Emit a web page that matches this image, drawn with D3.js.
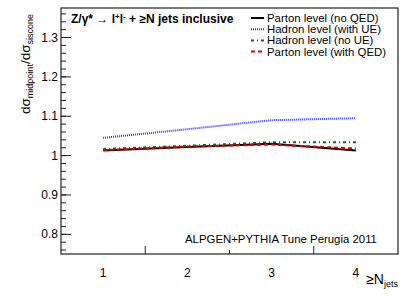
<!DOCTYPE html>
<html>
<head>
<meta charset="utf-8">
<style>
body { margin: 0; background: #fff; }
svg text { font-family: "Liberation Sans", Arial, sans-serif; }
</style>
</head>
<body>
<script src="https://d3js.org/d3.v7.min.js"></script>
<script>
// data
var njets = [1, 2, 3, 4];
var partonNoQED = [1.013, 1.022, 1.030, 1.013];
var hadronUE = [1.045, 1.067, 1.090, 1.095];
var hadronNoUE = [1.017, 1.025, 1.034, 1.034];
var partonQED = [1.014, 1.023, 1.028, 1.018];
var seriesNames = ["Parton level (no QED)", "Hadron level (with UE)", "Hadron level (no UE)", "Parton level (with QED)"];
var yTicks = [0.8, 0.9, 1, 1.1, 1.2, 1.3];

var W = 411, H = 300;
var margin = {top: 8, right: 13, bottom: 46, left: 61};

var svg = d3.select("body").append("svg")
    .attr("width", W)
    .attr("height", H);

var x = d3.scaleLinear().domain([0.5, 4.5]).range([margin.left, W - margin.right]);
var y = d3.scaleLinear().domain([0.75, 1.375]).range([H - margin.bottom, margin.top]);

// frame
svg.append("rect")
    .attr("x", margin.left).attr("y", margin.top)
    .attr("width", W - margin.right - margin.left)
    .attr("height", H - margin.bottom - margin.top)
    .attr("fill", "none").attr("stroke", "#222").attr("stroke-width", 1.2);

// y axis ticks (major + minor)
var minor = d3.range(0.76, 1.375, 0.02);
svg.selectAll(".ymin").data(minor).enter().append("line")
    .attr("x1", margin.left).attr("x2", margin.left + 5)
    .attr("y1", function(d) { return y(d); }).attr("y2", function(d) { return y(d); })
    .attr("stroke", "#222");
svg.selectAll(".ymaj").data(yTicks).enter().append("line")
    .attr("x1", margin.left).attr("x2", margin.left + 10)
    .attr("y1", function(d) { return y(d); }).attr("y2", function(d) { return y(d); })
    .attr("stroke", "#222");
svg.selectAll(".ylab").data(yTicks).enter().append("text")
    .attr("x", margin.left - 3)
    .attr("y", function(d) { return y(d) + 4; })
    .attr("text-anchor", "end")
    .attr("font-size", 12)
    .text(function(d) { return d3.format("")(d); });

// x axis ticks
var xTickPos = [1.5, 2.5, 3.5];
svg.selectAll(".xt").data(xTickPos).enter().append("line")
    .attr("x1", function(d) { return x(d); }).attr("x2", function(d) { return x(d); })
    .attr("y1", H - margin.bottom).attr("y2", function(d) { return H - margin.bottom - (d == 2.5 ? 4 : 8); })
    .attr("stroke", "#222");
svg.selectAll(".xlab").data(njets).enter().append("text")
    .attr("x", function(d) { return x(d); })
    .attr("y", H - margin.bottom + 23)
    .attr("text-anchor", "middle")
    .attr("font-size", 12)
    .text(function(d) { return d; });

// series
var styles = [
    {color: "#000", dash: null, width: 2, data: partonNoQED},
    {color: "#3333ff", dash: "1,1", width: 2, data: hadronUE},
    {color: "#007700", dash: "3,3,1,3", width: 2, data: hadronNoUE},
    {color: "#dd0000", dash: "4,3", width: 2, data: partonQED}
];
var line = d3.line().x(function(d, i) { return x(njets[i]); }).y(function(d) { return y(d); });

svg.selectAll(".series").data(styles).enter().append("path")
    .attr("d", function(s) { return line(s.data); })
    .attr("fill", "none")
    .attr("stroke", function(s) { return s.color; })
    .attr("stroke-width", function(s) { return s.width; })
    .attr("stroke-dasharray", function(s) { return s.dash; });

// title
svg.append("text")
    .attr("x", 71).attr("y", 23)
    .attr("font-size", 12).attr("font-weight", "bold")
    .html("Z/γ* <tspan font-weight='normal'>→</tspan> l<tspan dy='-4' font-size='8'>+</tspan><tspan dy='4'>l</tspan><tspan dy='-4' font-size='8'>-</tspan><tspan dy='4'> + ≥N jets inclusive</tspan>");

// legend
var leg = svg.selectAll(".leg").data(styles).enter().append("g")
    .attr("transform", function(s, i) { return "translate(251," + (22 + i * 11.2) + ")"; });
leg.append("line")
    .attr("x1", 0).attr("x2", 13).attr("y1", -4).attr("y2", -4)
    .attr("stroke", function(s) { return s.color; })
    .attr("stroke-width", function(s) { return s.width; })
    .attr("stroke-dasharray", function(s) { return s.dash; });
leg.append("text")
    .attr("x", 16).attr("y", 0)
    .attr("font-size", 11.4)
    .text(function(s, i) { return seriesNames[i]; });

// tune label
svg.append("text")
    .attr("x", 185).attr("y", 243)
    .attr("font-size", 11.4)
    .text("ALPGEN+PYTHIA Tune Perugia 2011");

// axis titles
svg.append("text")
    .attr("x", W - margin.right).attr("y", 284)
    .attr("text-anchor", "end")
    .attr("font-size", 14)
    .html("≥N<tspan dy='3' font-size='9'>jets</tspan>");

svg.append("text")
    .attr("transform", "translate(30,14) rotate(-90)")
    .attr("text-anchor", "end")
    .attr("font-size", 13.5)
    .html("dσ<tspan dy='3' font-size='9'>midpoint</tspan><tspan dy='-3'>/dσ</tspan><tspan dy='3' font-size='9'>siscone</tspan>");
</script>
</body>
</html>
